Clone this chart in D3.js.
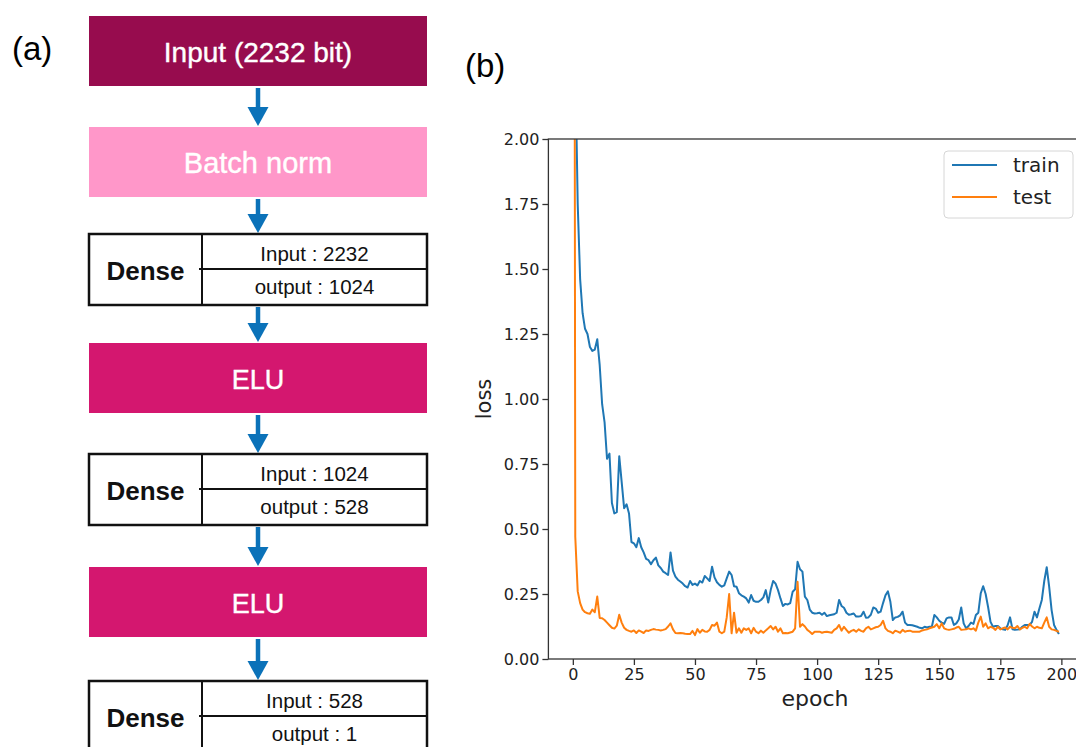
<!DOCTYPE html>
<meta charset="utf-8">
<style>
body { margin: 0; background: #fff; }
svg { display: block; }
.axis text { font-family: "DejaVu Sans", sans-serif; font-size: 16px; fill: #222; }
.axis line { stroke: #333; stroke-width: 1.3; }
.axis path { display: none; }
</style>
<svg width="1076" height="747"></svg>
<script src="https://d3js.org/d3.v7.min.js"></script>
<script>

// (a) network layers, top to bottom
var layers = [
  {kind: "box", label: "Input (2232 bit)", color: "#970c4e", text: "#fff", size: 28},
  {kind: "box", label: "Batch norm", color: "#ff97c9", text: "#fff", size: 29},
  {kind: "dense", label: "Dense", input: "Input : 2232", output: "output : 1024"},
  {kind: "box", label: "ELU", color: "#d4176f", text: "#fff", size: 27},
  {kind: "dense", label: "Dense", input: "Input : 1024", output: "output : 528"},
  {kind: "box", label: "ELU", color: "#d4176f", text: "#fff", size: 27},
  {kind: "dense", label: "Dense", input: "Input : 528", output: "output : 1"}
];
var layerTops = [16, 127, 234, 343, 454, 567, 681];

// (b) loss per epoch
var epochs = d3.range(0, 200);
var xTicks = [0, 25, 50, 75, 100, 125, 150, 175, 200];
var yTicks = [0, 0.25, 0.5, 0.75, 1.0, 1.25, 1.5, 1.75, 2.0];

var trainLoss = [
  4.5, 2.3, 1.75, 1.46, 1.33, 1.27, 1.25, 1.2, 1.185, 1.19,
  1.23, 1.13, 0.98, 0.91, 0.77, 0.79, 0.6, 0.56, 0.565, 0.78,
  0.68, 0.58, 0.595, 0.56, 0.45, 0.445, 0.43, 0.465, 0.43, 0.41,
  0.385, 0.38, 0.365, 0.38, 0.39, 0.36, 0.35, 0.336, 0.33, 0.323,
  0.41, 0.34, 0.317, 0.305, 0.298, 0.29, 0.28, 0.275, 0.3, 0.285,
  0.29, 0.283, 0.3, 0.294, 0.319, 0.31, 0.3, 0.355, 0.314, 0.295,
  0.285, 0.278, 0.283, 0.31, 0.336, 0.323, 0.28, 0.278, 0.253, 0.245,
  0.24, 0.233, 0.217, 0.246, 0.224, 0.22, 0.22, 0.227, 0.237, 0.265,
  0.217, 0.265, 0.3, 0.29, 0.265, 0.233, 0.204, 0.212, 0.21, 0.215,
  0.259, 0.268, 0.374, 0.345, 0.336, 0.24, 0.227, 0.19, 0.178, 0.175,
  0.176, 0.178, 0.17, 0.178, 0.165, 0.168, 0.17, 0.172, 0.178, 0.227,
  0.204, 0.197, 0.178, 0.17, 0.172, 0.175, 0.163, 0.163, 0.165, 0.182,
  0.159, 0.16, 0.17, 0.198, 0.194, 0.178, 0.182, 0.215, 0.245, 0.26,
  0.22, 0.15, 0.16, 0.162, 0.168, 0.182, 0.14, 0.131, 0.131, 0.13,
  0.127, 0.124, 0.12, 0.118, 0.124, 0.121, 0.124, 0.125, 0.169, 0.16,
  0.147, 0.14, 0.135, 0.156, 0.16, 0.16, 0.131, 0.137, 0.152, 0.198,
  0.137, 0.118, 0.127, 0.14, 0.135, 0.169, 0.178, 0.253, 0.28, 0.25,
  0.2, 0.143, 0.124, 0.127, 0.127, 0.118, 0.114, 0.112, 0.13, 0.16,
  0.114, 0.112, 0.113, 0.114, 0.124, 0.131, 0.131, 0.131, 0.143, 0.182,
  0.16, 0.194, 0.227, 0.3, 0.353, 0.278, 0.188, 0.131, 0.112, 0.096
];

var testLoss = [
  8.0, 0.47, 0.26, 0.215, 0.19, 0.18, 0.176, 0.174, 0.19, 0.18,
  0.24, 0.158, 0.157, 0.15, 0.14, 0.13, 0.12, 0.117, 0.128, 0.17,
  0.14, 0.12, 0.112, 0.108, 0.105, 0.11, 0.1, 0.11, 0.105, 0.1,
  0.11, 0.108, 0.112, 0.115, 0.113, 0.112, 0.11, 0.112, 0.115, 0.125,
  0.137, 0.114, 0.1, 0.099, 0.1, 0.099, 0.097, 0.096, 0.096, 0.108,
  0.092, 0.115, 0.101, 0.112, 0.106, 0.105, 0.112, 0.131, 0.128, 0.14,
  0.105, 0.099, 0.105, 0.16, 0.25, 0.099, 0.178, 0.101, 0.118, 0.101,
  0.118, 0.112, 0.118, 0.099, 0.12, 0.105, 0.099, 0.109, 0.101, 0.11,
  0.118, 0.127, 0.114, 0.124, 0.105, 0.118, 0.099, 0.1, 0.099, 0.102,
  0.105, 0.118, 0.297, 0.124, 0.134, 0.125, 0.112, 0.105, 0.096, 0.105,
  0.105, 0.105, 0.101, 0.104, 0.105, 0.103, 0.101, 0.112, 0.118, 0.131,
  0.109, 0.124, 0.112, 0.101, 0.108, 0.112, 0.105, 0.114, 0.108, 0.105,
  0.118, 0.124, 0.114, 0.118, 0.122, 0.124, 0.131, 0.147, 0.118, 0.108,
  0.105, 0.099, 0.109, 0.105, 0.101, 0.112, 0.105, 0.108, 0.109, 0.105,
  0.105, 0.105, 0.105, 0.11, 0.112, 0.114, 0.118, 0.121, 0.124, 0.134,
  0.118, 0.137, 0.118, 0.114, 0.112, 0.114, 0.116, 0.121, 0.124, 0.112,
  0.113, 0.114, 0.118, 0.114, 0.118, 0.109, 0.14, 0.163, 0.124, 0.137,
  0.118, 0.124, 0.12, 0.112, 0.124, 0.114, 0.118, 0.121, 0.114, 0.124,
  0.12, 0.118, 0.127, 0.114, 0.12, 0.124, 0.118, 0.135, 0.125, 0.118,
  0.124, 0.12, 0.118, 0.14, 0.16, 0.124, 0.114, 0.112, 0.108, 0.105
];

var series = [
  {name: "train", values: trainLoss, color: "#1f77b4"},
  {name: "test", values: testLoss, color: "#ff7f0e"}
];

var svg = d3.select("svg");

// ---------- (a) diagram ----------
var sans = "'Liberation Sans', Arial, Helvetica, sans-serif";
var bx = 89, bw = 338, bh = 70, split = 202, mid = bx + bw / 2;

svg.append("text")
  .attr("x", 12).attr("y", 60)
  .attr("font-family", sans).attr("font-size", 33)
  .text("(a)");

var diag = svg.append("g");

layers.forEach(function(d, i) {
  var top = layerTops[i];
  var g = diag.append("g").attr("transform", "translate(0," + top + ")");
  if (d.kind == "box") {
    g.append("rect")
      .attr("x", bx).attr("y", 0).attr("width", bw).attr("height", bh)
      .attr("fill", d.color);
    g.append("text")
      .attr("x", mid).attr("y", bh / 2 + 11)
      .attr("text-anchor", "middle")
      .attr("font-family", sans).attr("font-size", d.size)
      .attr("fill", d.text)
      .attr("stroke", d.text).attr("stroke-width", 0.4)
      .text(d.label);
  } else {
    g.append("rect")
      .attr("x", bx).attr("y", 0).attr("width", bw).attr("height", 71)
      .attr("fill", "#fff").attr("stroke", "#111").attr("stroke-width", 2.5);
    g.append("line")
      .attr("x1", split).attr("x2", split).attr("y1", 0).attr("y2", 71)
      .attr("stroke", "#111").attr("stroke-width", 2);
    g.append("line")
      .attr("x1", split - 3).attr("x2", bx + bw).attr("y1", 35).attr("y2", 35)
      .attr("stroke", "#111").attr("stroke-width", 2);
    g.append("text")
      .attr("x", (bx + split) / 2).attr("y", 46)
      .attr("text-anchor", "middle")
      .attr("font-family", sans).attr("font-size", 26).attr("font-weight", "bold")
      .attr("fill", "#111")
      .text(d.label);
    g.append("text")
      .attr("x", (split + bx + bw) / 2).attr("y", 27)
      .attr("text-anchor", "middle")
      .attr("font-family", sans).attr("font-size", 20.5)
      .attr("fill", "#111")
      .text(d.input);
    g.append("text")
      .attr("x", (split + bx + bw) / 2).attr("y", 60)
      .attr("text-anchor", "middle")
      .attr("font-family", sans).attr("font-size", 20.5)
      .attr("fill", "#111")
      .text(d.output);
  }
  // arrow to the next layer
  if (i < layers.length - 1) {
    var h = (d.kind == "dense") ? 71 : bh;
    var a0 = top + h + 2, a1 = layerTops[i + 1] - 1;
    diag.append("line")
      .attr("x1", mid).attr("x2", mid).attr("y1", a0).attr("y2", a1 - 17)
      .attr("stroke", "#0b72b9").attr("stroke-width", 4.5);
    diag.append("path")
      .attr("d", "M" + (mid - 10.5) + "," + (a1 - 19) + "L" + (mid + 10.5) + "," + (a1 - 19) + "L" + mid + "," + a1 + "Z")
      .attr("fill", "#0b72b9");
  }
});

// ---------- (b) loss chart ----------
var dj = "'DejaVu Sans', sans-serif";
svg.append("text")
  .attr("x", 465).attr("y", 77)
  .attr("font-family", sans).attr("font-size", 33)
  .text("(b)");

var x = d3.scaleLinear().domain([-10, 210]).range([548.4, 1085.8]);
var y = d3.scaleLinear().domain([0, 2]).range([659, 139]);

svg.append("defs").append("clipPath").attr("id", "plot")
  .append("rect")
  .attr("x", x(-10)).attr("y", y(2))
  .attr("width", x(210) - x(-10)).attr("height", y(0) - y(2));

var lineGen = d3.line()
  .x(function(d, i) { return x(epochs[i]); })
  .y(function(d) { return y(d); });

svg.append("g").attr("clip-path", "url(#plot)")
  .selectAll("path")
  .data(series)
  .enter().append("path")
  .attr("d", function(d) { return lineGen(d.values); })
  .attr("fill", "none")
  .attr("stroke", function(d) { return d.color; })
  .attr("stroke-width", 2)
  .attr("stroke-linejoin", "round");

// spines
svg.append("rect")
  .attr("x", x(-10)).attr("y", y(2))
  .attr("width", x(210) - x(-10)).attr("height", y(0) - y(2))
  .attr("fill", "none").attr("stroke", "#333").attr("stroke-width", 1.3);

svg.append("g").attr("class", "axis")
  .attr("transform", "translate(" + x(-10) + ",0)")
  .call(d3.axisLeft(y).tickValues(yTicks).tickFormat(d3.format(".2f"))
    .tickSize(6).tickSizeOuter(0).tickPadding(3));

svg.append("g").attr("class", "axis")
  .attr("transform", "translate(0," + y(0) + ")")
  .call(d3.axisBottom(x).tickValues(xTicks).tickFormat(d3.format("d"))
    .tickSize(6).tickSizeOuter(0).tickPadding(4));

svg.append("text")
  .attr("x", 815).attr("y", 706)
  .attr("text-anchor", "middle")
  .attr("font-family", dj).attr("font-size", 22).attr("fill", "#222")
  .text("epoch");

svg.append("text")
  .attr("transform", "translate(491,399) rotate(-90)")
  .attr("text-anchor", "middle")
  .attr("font-family", dj).attr("font-size", 21).attr("fill", "#222")
  .text("loss");

// legend
var lg = svg.append("g");
lg.append("rect")
  .attr("x", 944).attr("y", 151).attr("width", 129).attr("height", 67)
  .attr("rx", 4)
  .attr("fill", "#fff").attr("fill-opacity", 0.8)
  .attr("stroke", "#d6d6d6").attr("stroke-width", 1);

var item = lg.selectAll("g.item")
  .data(series)
  .enter().append("g")
  .attr("class", "item")
  .attr("transform", function(d, i) { return "translate(0," + (165 + i * 32) + ")"; });

item.append("line")
  .attr("x1", 952).attr("x2", 997)
  .attr("stroke", function(d) { return d.color; })
  .attr("stroke-width", 2);

item.append("text")
  .attr("x", 1013).attr("y", 7)
  .attr("font-family", dj).attr("font-size", 20).attr("fill", "#222")
  .text(function(d) { return d.name; });

</script>
